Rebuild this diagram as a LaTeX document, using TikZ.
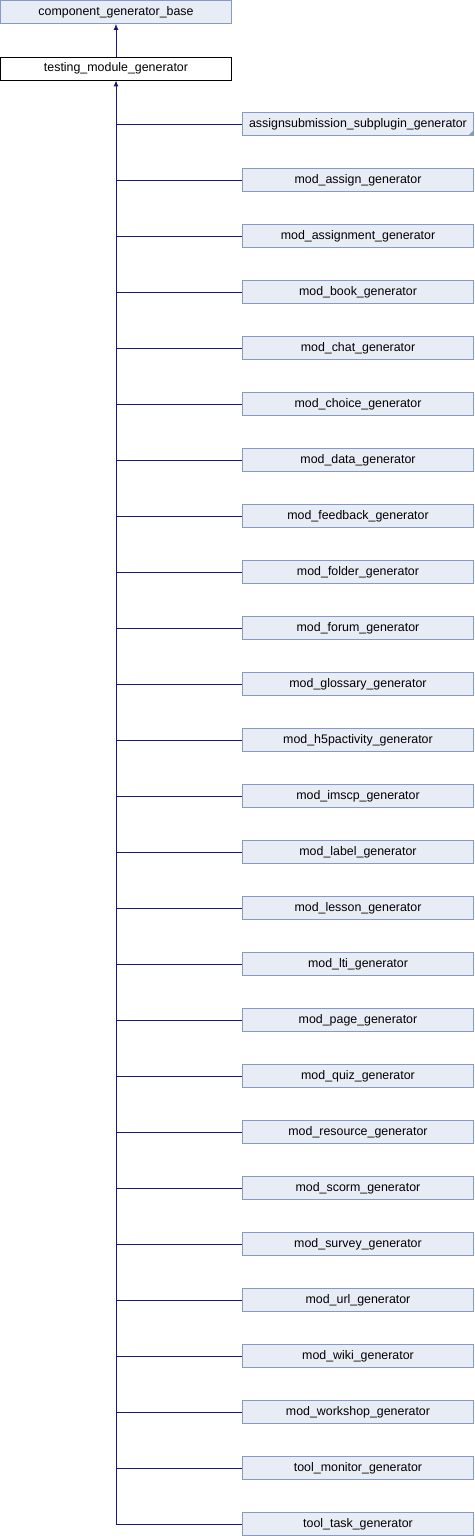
\documentclass[tikz,border=0pt]{standalone}
\usepackage{fontspec}
\setmainfont{Liberation Sans}
\usetikzlibrary{arrows.meta}
\definecolor{boxfill}{RGB}{232,236,245}
\definecolor{boxline}{RGB}{132,155,201}
\definecolor{edgecol}{RGB}{25,25,112}
\begin{document}
\begin{tikzpicture}[x=1pt,y=-1pt,
  cls/.style={draw=boxline,fill=boxfill,line width=0.9pt,minimum width=231pt,minimum height=23pt,inner sep=0pt,font=\fontsize{12.4}{14}\selectfont,anchor=center},
  focus/.style={cls,draw=black,fill=white},
  edge/.style={draw=edgecol,line width=0.9pt},
  inh/.style={edge,-{Latex[length=6pt,width=5pt]}}
]
\useasboundingbox (0,0) rectangle (474,1536);
\node[cls] (base) at (116,12) {component\_generator\_base};
\node[focus] (tmg) at (116,68.5) {testing\_module\_generator};
\draw[inh] (tmg.north) -- (base.south);
\foreach \name [count=\i from 0] in {assignsubmission\_subplugin\_generator,mod\_assign\_generator,mod\_assignment\_generator,mod\_book\_generator,mod\_chat\_generator,mod\_choice\_generator,mod\_data\_generator,mod\_feedback\_generator,mod\_folder\_generator,mod\_forum\_generator,mod\_glossary\_generator,mod\_h5pactivity\_generator,mod\_imscp\_generator,mod\_label\_generator,mod\_lesson\_generator,mod\_lti\_generator,mod\_page\_generator,mod\_quiz\_generator,mod\_resource\_generator,mod\_scorm\_generator,mod\_survey\_generator,mod\_url\_generator,mod\_wiki\_generator,mod\_workshop\_generator,tool\_monitor\_generator,tool\_task\_generator}{
  \node[cls] (c\i) at (358,124+56*\i) {\name};
  \coordinate (j\i) at (116,124+56*\i);
  \draw[edge] (c\i.west) -- (j\i);
}
\draw[inh] (j25) -- (tmg.south);
\fill[boxline] (c0.south east) -- ++(0,-6) -- ++(-6,6) -- cycle;
\end{tikzpicture}
\end{document}
